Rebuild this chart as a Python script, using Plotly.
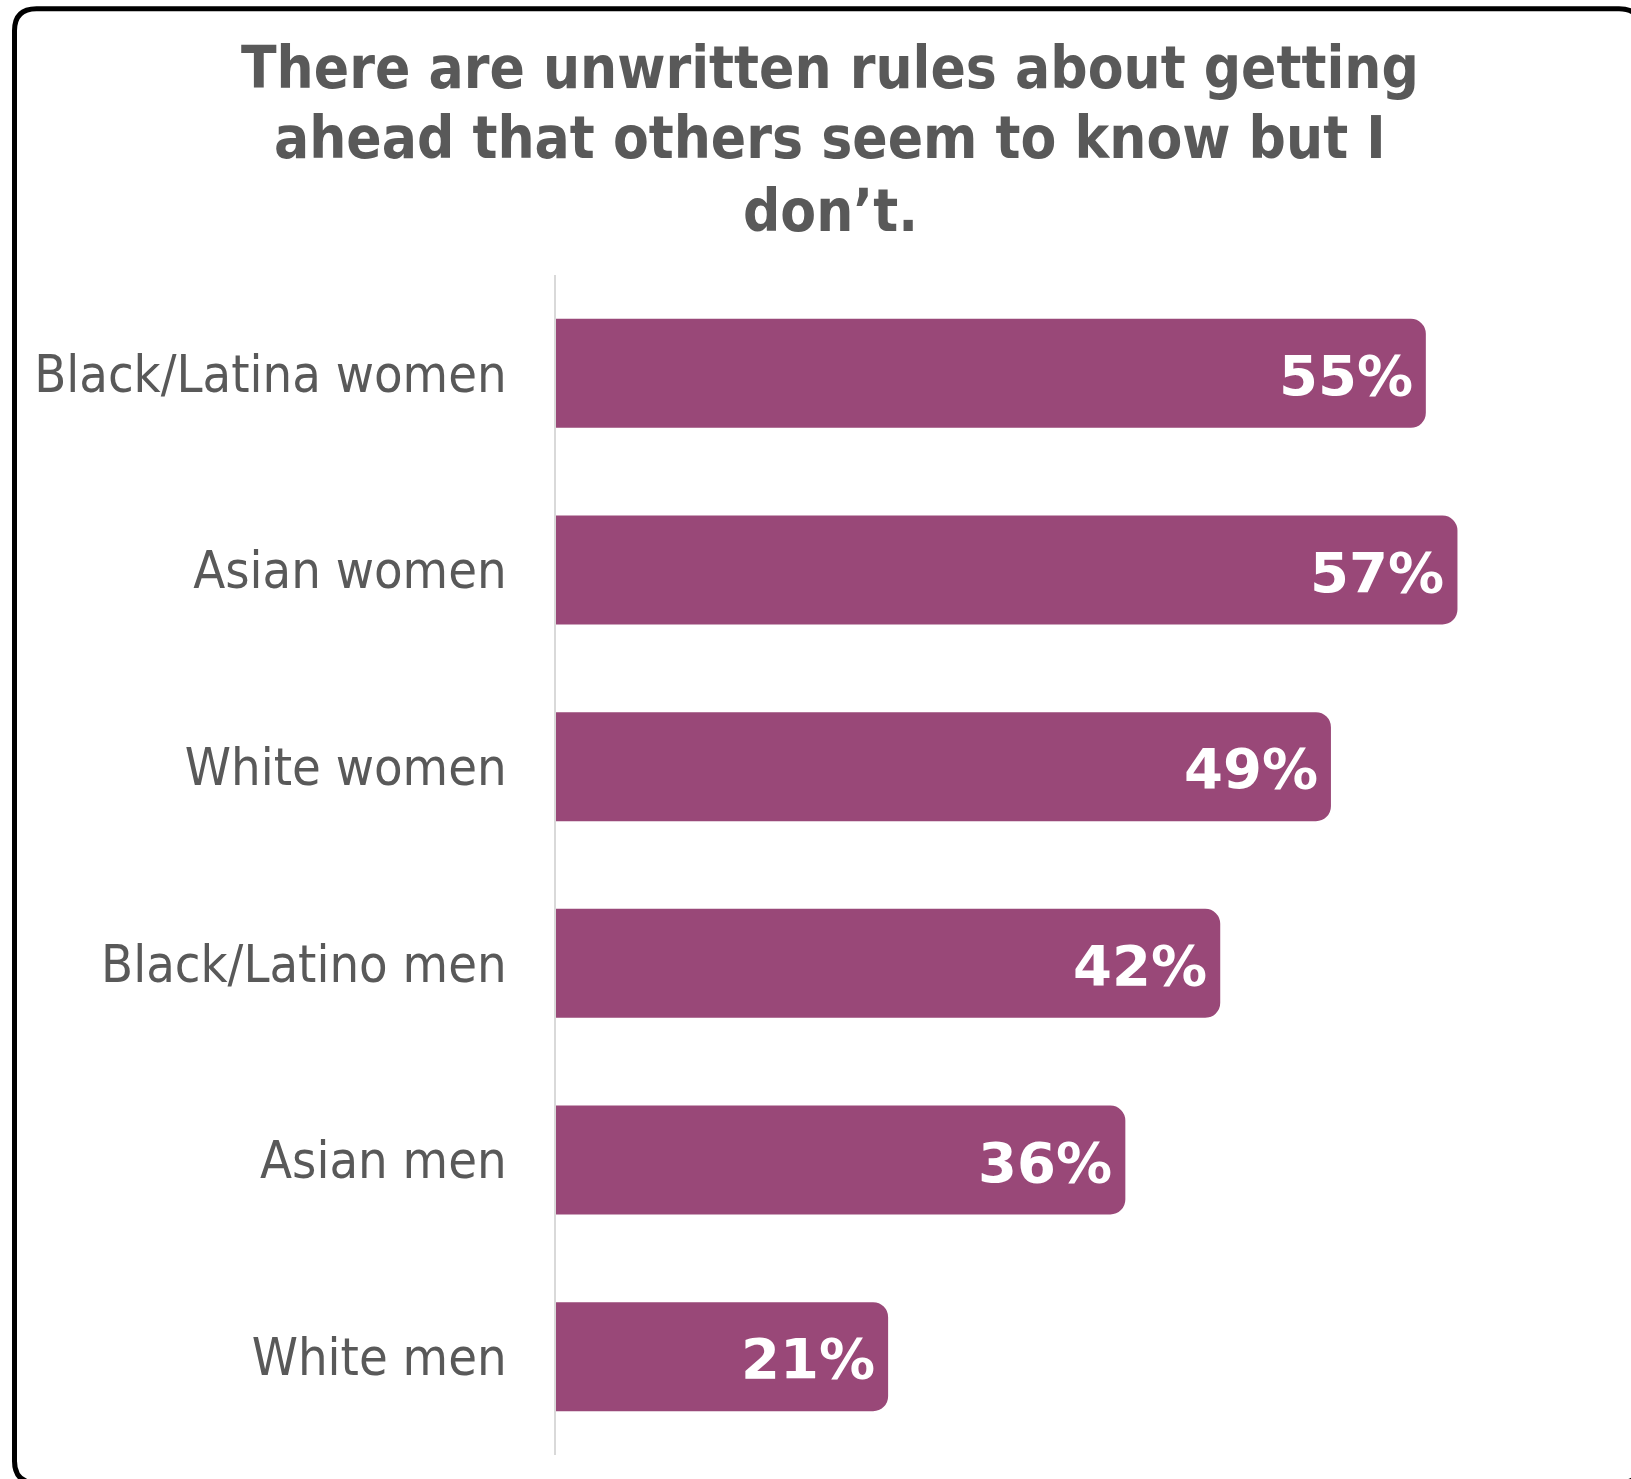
import plotly.graph_objects as go

# Survey responses: share agreeing with the statement, by group
groups = [
    "Black/Latina women",
    "Asian women",
    "White women",
    "Black/Latino men",
    "Asian men",
    "White men",
]
shares = [55, 57, 49, 42, 36, 21]
share_labels = [f"{v}%" for v in shares]

title_lines = [
    "There are unwritten rules about getting",
    "ahead that others seem to know but I",
    "don\u2019t.",
]

BAR_COLOR = "#994878"
TEXT_GRAY = "#595959"
COND = "DejaVu Sans Condensed, DejaVu Sans, sans-serif"
WIDE = "DejaVu Sans, Verdana, sans-serif"

W, H = 1631, 1479
L, R, T, B = 556, 63, 275, 24
plot_w = W - L - R
plot_h = H - T - B


def px_to_paper_x(px):
    return (px - L) / plot_w


def px_to_paper_y(py):
    return (H - B - py) / plot_h


fig = go.Figure(
    go.Bar(
        x=shares,
        y=groups,
        orientation="h",
        marker=dict(color=BAR_COLOR, line=dict(width=0)),
        width=0.554,
        hoverinfo="skip",
    )
)

# Value labels just inside the end of each bar
for g, v, lab in zip(groups, shares, share_labels):
    fig.add_annotation(
        x=v, y=g, xref="x", yref="y",
        text=lab, showarrow=False,
        xanchor="right", yanchor="middle", xshift=-11, yshift=-2,
        font=dict(family=WIDE, size=56, color="white", weight="bold"),
    )

# Title, one annotation per line
title_centers_px = [67.6, 138.3, 211.2]
for line, py in zip(title_lines, title_centers_px):
    fig.add_annotation(
        x=px_to_paper_x(830), y=px_to_paper_y(py), xref="paper", yref="paper",
        text=line, showarrow=False, xanchor="center", yanchor="middle",
        font=dict(family=COND, size=58, color=TEXT_GRAY, weight="bold"),
    )

# Rounded frame around the whole chart
x0, y0, x1, y1, rad = 14.5, 8.7, 1641, 1483, 22
pts = [
    ("M", (x0 + rad, y0)),
    ("L", (x1 - rad, y0)),
    ("Q", (x1, y0), (x1, y0 + rad)),
    ("L", (x1, y1 - rad)),
    ("Q", (x1, y1), (x1 - rad, y1)),
    ("L", (x0 + rad, y1)),
    ("Q", (x0, y1), (x0, y1 - rad)),
    ("L", (x0, y0 + rad)),
    ("Q", (x0, y0), (x0 + rad, y0)),
]
path = ""
for cmd, *coords in pts:
    path += cmd + " " + " ".join(
        f"{px_to_paper_x(cx):.5f},{px_to_paper_y(cy):.5f}" for cx, cy in coords
    ) + " "
path += "Z"
fig.add_shape(
    type="path", path=path, xref="paper", yref="paper",
    line=dict(color="black", width=5), fillcolor="rgba(0,0,0,0)", layer="above",
)

fig.update_layout(
    width=W, height=H,
    margin=dict(l=L, r=R, t=T, b=B, pad=0),
    paper_bgcolor="white", plot_bgcolor="white",
    showlegend=False,
    barcornerradius=15,
    xaxis=dict(
        range=[0, plot_w / 15.815], visible=False, fixedrange=True,
    ),
    yaxis=dict(
        categoryorder="array", categoryarray=groups, autorange="reversed",
        showline=True, linecolor="#d9d9d9", linewidth=2,
        showgrid=False, zeroline=False, ticks="",
        ticklabelstandoff=37,
        tickfont=dict(family=COND, size=52, color=TEXT_GRAY),
        fixedrange=True,
    ),
)

fig.write_html("out.html")
